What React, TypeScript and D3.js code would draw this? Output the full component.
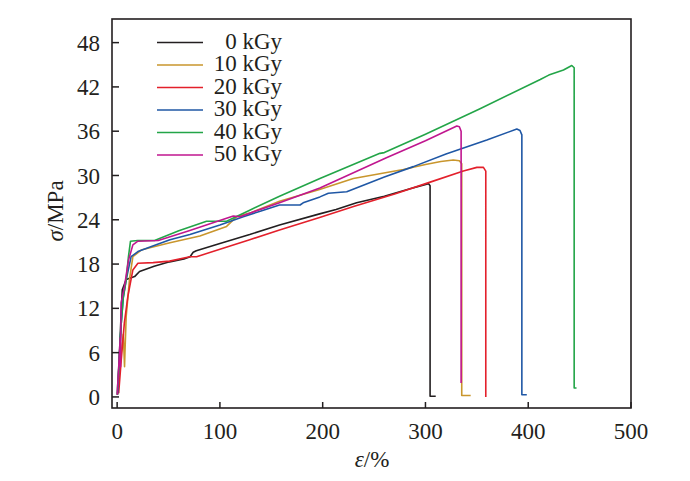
import React from 'react';
import { scaleLinear, line } from 'd3';

// dose labels and colours of the six curves
const doses = ['0 kGy', '10 kGy', '20 kGy', '30 kGy', '40 kGy', '50 kGy'];
const colors = ['#231f20', '#c9962d', '#e3202b', '#1f57a5', '#23a548', '#c0168f'];

// strain (%) / stress (MPa) pairs
const kGy0: [number, number][] = [
  [0.5, 0.3], [2, 5], [3.5, 10], [5, 14.5], [8.8, 15.9], [17, 16.3], [21.8, 17], [36, 17.7],
  [51, 18.3], [65, 18.7], [71, 19.0], [74, 19.6], [77, 19.8], [100, 20.8], [129, 22.0],
  [158, 23.3], [197, 24.8], [213, 25.4], [233, 26.3], [260, 27.2], [285, 28.2], [303, 28.9],
  [304.5, 28.6], [304.5, 0.1], [310, 0.1],
];
const kGy10: [number, number][] = [
  [0.5, 0.5], [2, 3], [4, 6], [6, 8.5], [7.2, 4.1], [7.6, 6], [8.8, 10.9], [12, 15.9],
  [15.3, 19], [23.4, 19.9], [31.8, 20.2], [51.4, 20.9], [80.5, 21.8], [106.5, 23.1],
  [116, 24.4], [129, 24.9], [158, 26.5], [197, 28.1], [229.8, 29.6], [278.5, 30.8],
  [300, 31.5], [315, 31.9], [327, 32.1], [333, 32.0], [335.3, 31.6], [335.3, 0.2], [344, 0.2],
];
const kGy20: [number, number][] = [
  [1.5, 0.5], [4, 5], [7, 10], [10.4, 13.6], [15.3, 17.2], [20.2, 18.1], [35, 18.2],
  [51, 18.4], [70.8, 19.0], [77.3, 19.0], [100, 20.0], [129, 21.3], [158, 22.6], [197, 24.3],
  [230, 25.8], [270, 27.5], [304.6, 29.1], [336.9, 30.6], [350, 31.1], [356.4, 31.1],
  [358.7, 30.6], [358.7, 0],
];
const kGy30: [number, number][] = [
  [0.5, 0.5], [2, 5], [4, 10], [6, 13.5], [9, 16], [13.6, 19], [20.2, 19.7], [38, 20.6],
  [51.4, 21.3], [70.8, 22], [100, 23.3], [122.7, 24.4], [140, 25.2], [158, 26.0], [178, 26.0],
  [181, 26.3], [197.3, 27.1], [205.5, 27.6], [223.4, 27.8], [260, 29.8], [288.2, 31.2],
  [320, 32.9], [359.7, 34.8], [388.9, 36.3], [392, 36.1], [393.8, 35.5], [393.8, 0.3],
  [398.6, 0.3],
];
const kGy40: [number, number][] = [
  [0, 0.3], [2, 5], [4, 10], [6, 13.5], [8.8, 15.9], [11, 19], [13, 21.1], [20, 21.2],
  [36.4, 21.2], [60, 22.5], [87, 23.8], [106.5, 23.8], [129, 25.3], [158, 27.2],
  [197.3, 29.6], [255.7, 33.0], [260, 33.1], [300, 35.6], [352.6, 39.0], [411.7, 43.0],
  [420, 43.6], [434.3, 44.3], [442.4, 44.9], [444.7, 44.6], [444.7, 1.2], [447, 1.2],
];
const kGy50: [number, number][] = [
  [0, 0.3], [1.5, 4], [3, 8], [3.3, 4.1], [3.6, 9], [3.9, 12.8], [7.2, 15], [11, 18.5],
  [15.3, 20.6], [20.2, 21.1], [40, 21.2], [70, 22.5], [113, 24.5], [119.5, 24.4], [129, 24.9],
  [158, 26.3], [197.3, 28.3], [262, 32.4], [300, 34.7], [330.5, 36.7], [333, 36.6],
  [334.7, 36.0], [334.7, 1.9],
];
const series = [kGy0, kGy10, kGy20, kGy30, kGy40, kGy50];

const xTicks = [0, 100, 200, 300, 400, 500];
const yTicks = [0, 6, 12, 18, 24, 30, 36, 42, 48];

const W = 690;
const H = 481;
const font = '"Liberation Serif", "Times New Roman", serif';
const ink = '#231f20';
const fs = 23;

export default function App() {
  const left = 112, right = 631, top = 19, bottom = 408;
  const x = scaleLinear().domain([-5, 500]).range([left, right]);
  const y = scaleLinear().domain([-1.5, 51.2]).range([bottom, top]);
  const path = line<[number, number]>().x(d => x(d[0])).y(d => y(d[1]));

  return (
    <div style={{ position: 'absolute', left: 0, top: 0 }}>
      <svg width={W} height={H} style={{ display: 'block', background: '#fff' }}>
        {/* curves */}
        {series.map((s, i) => (
          <path key={doses[i]} d={path(s) || ''} fill="none" stroke={colors[i]}
            strokeWidth={1.6} strokeLinejoin="round" />
        ))}

        {/* frame */}
        <rect x={left} y={top} width={right - left} height={bottom - top}
          fill="none" stroke={ink} strokeWidth={1.6} />

        {/* y ticks */}
        {yTicks.map(t => (
          <g key={'y' + t}>
            <line x1={left} x2={left + 7} y1={y(t)} y2={y(t)} stroke={ink} strokeWidth={1.5} />
            <text x={100} y={y(t)} dy="0.35em" textAnchor="end" fontFamily={font}
              fontSize={fs} fill={ink}>{t}</text>
          </g>
        ))}

        {/* x ticks */}
        {xTicks.map(t => (
          <g key={'x' + t}>
            <line x1={x(t)} x2={x(t)} y1={bottom} y2={bottom - 6} stroke={ink} strokeWidth={1.5} />
            <text x={x(t)} y={bottom + 31} textAnchor="middle" fontFamily={font}
              fontSize={fs} fill={ink}>{t}</text>
          </g>
        ))}

        {/* axis titles */}
        <text x={372} y={467} textAnchor="middle" fontFamily={font} fontSize={fs} fill={ink}>
          <tspan fontStyle="italic">ε</tspan>/%
        </text>
        <text transform="translate(63,211) rotate(-90)" textAnchor="middle" fontFamily={font}
          fontSize={fs} fill={ink}>
          <tspan fontStyle="italic">σ</tspan>/MPa
        </text>

        {/* legend */}
        {doses.map((d, i) => {
          const by = 48.5 + i * 22.5;
          return (
            <g key={'lg' + d}>
              <line x1={157} x2={203} y1={by - 6} y2={by - 6} stroke={colors[i]} strokeWidth={1.6} />
              <text x={282} y={by} textAnchor="end" fontFamily={font} fontSize={fs} fill={ink}>{d}</text>
            </g>
          );
        })}
      </svg>
    </div>
  );
}
